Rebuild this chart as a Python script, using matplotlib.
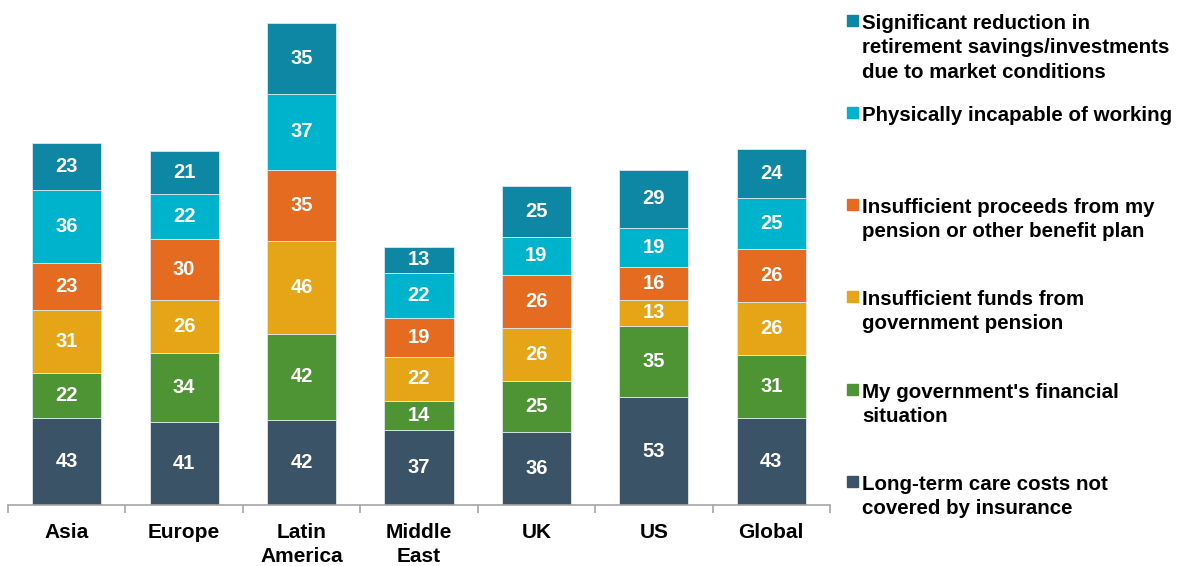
from matplotlib import pyplot as plt
from matplotlib.patches import Rectangle
import numpy as np

plt.rcParams['font.family'] = ['Liberation Sans', 'DejaVu Sans']

regions = ["Asia", "Europe", "Latin\nAmerica", "Middle\nEast", "UK", "US", "Global"]

# series from the bottom of the stack to the top
long_term_care = [43, 41, 42, 37, 36, 53, 43]
gov_financial = [22, 34, 42, 14, 25, 35, 31]
gov_pension = [31, 26, 46, 22, 26, 13, 26]
benefit_plan = [23, 30, 35, 19, 26, 16, 26]
physically_incapable = [36, 22, 37, 22, 19, 19, 25]
market_reduction = [23, 21, 35, 13, 25, 29, 24]

series = [long_term_care, gov_financial, gov_pension, benefit_plan,
          physically_incapable, market_reduction]
labels = [
    "Long-term care costs not\ncovered by insurance",
    "My government's financial\nsituation",
    "Insufficient funds from\ngovernment pension",
    "Insufficient proceeds from my\npension or other benefit plan",
    "Physically incapable of working",
    "Significant reduction in\nretirement savings/investments\ndue to market conditions",
]
colors = ["#3A5366", "#4F9434", "#E5A516", "#E56B20", "#00B3CC", "#0E87A4"]

fig = plt.figure(figsize=(11.87, 5.66), dpi=100)
ax = fig.add_axes([8 / 1187, 61 / 566, 822 / 1187, 488 / 566])

x = np.arange(len(regions))
bottom = np.zeros(len(regions))
for vals, col in zip(series, colors):
    bars = ax.bar(x, vals, 0.59, bottom=bottom, color=col,
                  edgecolor="#dde8ee", linewidth=0.6)
    for rect, v, b in zip(bars, vals, bottom):
        ax.text(rect.get_x() + rect.get_width() / 2, b + v / 2, str(v),
                ha="center", va="center", color="white",
                fontsize=14.5, fontweight="bold")
    bottom += vals

ax.set_xlim(-0.5, 6.5)
ax.set_ylim(0, 240)

for s in ["top", "right", "left"]:
    ax.spines[s].set_visible(False)
ax.spines["bottom"].set_color("#a6a6a6")
ax.spines["bottom"].set_linewidth(1.2)
ax.set_yticks([])

ax.set_xticks(x)
ax.set_xticklabels(regions, fontsize=15, fontweight="bold", linespacing=1.33)
ax.tick_params(axis="x", which="major", length=0, pad=13)
ax.set_xticks(np.arange(-0.5, 7, 1), minor=True)
ax.tick_params(axis="x", which="minor", length=6, width=1.2,
               color="#a6a6a6", direction="out")

# legend drawn by hand, top item first; cap-top pixel rows of each entry
legend_y = [13, 105, 197, 289, 382, 474]
for lab, col, ytop in zip(labels[::-1], colors[::-1], legend_y):
    fig.patches.append(Rectangle((847 / 1187, 1 - (ytop + 13) / 566),
                                 11 / 1187, 11 / 566, color=col,
                                 transform=fig.transFigure))
    fig.text(862 / 1187, 1 - (ytop + 1) / 566, lab, ha="left", va="top",
             fontsize=14.8, fontweight="bold", linespacing=1.36)

fig.savefig("out.png", dpi=100)
